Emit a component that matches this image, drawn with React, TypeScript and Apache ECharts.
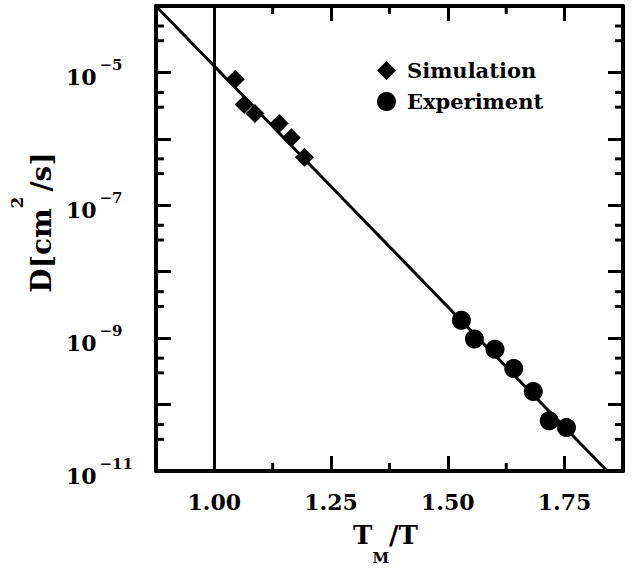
import React, { useEffect, useRef } from "react";
import * as echarts from "echarts";

// Reduced inverse temperature T_M/T and diffusion coefficient D [cm^2/s]
const simT = [1.045, 1.064, 1.087, 1.139, 1.165, 1.193];
const simD = [7.9e-6, 3.3e-6, 2.4e-6, 1.7e-6, 1.04e-6, 5.3e-7];

const expT = [1.529, 1.557, 1.601, 1.641, 1.683, 1.717, 1.754];
const expD = [1.86e-9, 9.7e-10, 6.8e-10, 3.5e-10, 1.57e-10, 5.7e-11, 4.5e-11];

// Arrhenius fit through both data sets
const fitT = [0.875, 1.841];
const fitD = [1e-4, 1e-11];

// Melting point marker
const meltT = 1.0;

// Axis ranges, ticks and labels
const xRange = [0.875, 1.875];
const yRange = [1e-11, 1e-4];
const xMajor = [1.0, 1.25, 1.5, 1.75];
const xMinor = [1.125, 1.375, 1.625];
const yMajor = [1e-11, 1e-10, 1e-9, 1e-8, 1e-7, 1e-6, 1e-5, 1e-4];
const yLabels = [1e-11, 1e-9, 1e-7, 1e-5];
const yMinor = [
  3e-11, 5e-11, 3e-10, 5e-10, 3e-9, 5e-9, 3e-8, 5e-8,
  3e-7, 5e-7, 3e-6, 5e-6, 3e-5, 5e-5,
];

const FONT = "'DejaVu Serif', serif";
const INK = "#000";
const MINOR_LEN = 8;

export default function App() {
  const ref = useRef<HTMLDivElement>(null);

  useEffect(() => {
    const chart = echarts.init(ref.current!, null, { renderer: "svg" });

    const frame = { show: true, lineStyle: { color: INK, width: 4 } };
    const major = (vals: number[]) => ({
      show: true,
      inside: true,
      length: 15,
      customValues: vals,
      lineStyle: { color: INK, width: 3 },
    });
    const xBase = {
      type: "value",
      min: xRange[0],
      max: xRange[1],
      splitLine: { show: false },
    };
    const yBase = {
      type: "log",
      logBase: 10,
      min: yRange[0],
      max: yRange[1],
      splitLine: { show: false },
    };
    const hidden = { show: false };
    const bold = { fontFamily: FONT, fontWeight: "bold", color: INK };

    chart.setOption({
      animation: false,
      backgroundColor: "#fff",
      grid: { left: 152, right: 11, top: 6, bottom: 93 },
      legend: {
        orient: "vertical",
        left: 372,
        top: 55,
        itemWidth: 19,
        itemHeight: 19,
        itemGap: 10,
        textStyle: { ...bold, fontSize: 21, padding: [0, 0, 0, 6] },
        data: [
          { name: "Simulation", icon: "diamond" },
          { name: "Experiment", icon: "circle" },
        ],
      },
      xAxis: [
        {
          ...xBase,
          position: "bottom",
          axisLine: frame,
          axisTick: major(xMajor),
          axisLabel: {
            ...bold,
            customValues: xMajor,
            margin: 20,
            fontSize: 22,
            formatter: (v: number) => v.toFixed(2),
          },
          name: "{a|T}{sub|M}{a|/T}",
          nameLocation: "middle",
          nameGap: 51,
          nameTextStyle: {
            ...bold,
            padding: [0, 8, 0, 0],
            rich: {
              a: { ...bold, fontSize: 26, lineHeight: 26, verticalAlign: "top" },
              sub: {
                ...bold,
                fontSize: 15,
                lineHeight: 15,
                padding: [28, 0, 0, 0],
                verticalAlign: "top",
              },
            },
          },
        },
        { ...xBase, position: "top", axisLine: frame, axisTick: major(xMajor), axisLabel: hidden },
      ],
      yAxis: [
        {
          ...yBase,
          position: "left",
          axisLine: frame,
          axisTick: major(yMajor),
          axisLabel: {
            customValues: yLabels,
            align: "left",
            margin: 90,
            padding: [0, 0, 8, 0],
            formatter: (v: number) => {
              const e = Math.round(Math.log10(v));
              return "{b|10}{s|\u2212" + Math.abs(e) + "}";
            },
            rich: {
              b: { ...bold, fontSize: 22, lineHeight: 22, padding: [9, 0, 8, 0], verticalAlign: "top" },
              s: { ...bold, fontSize: 15, lineHeight: 15, padding: [0, 0, 0, 3], verticalAlign: "top" },
            },
          },
          name: "{a|D[cm}{s|2}{a|/s]}",
          nameLocation: "middle",
          nameRotate: 90,
          nameGap: 94,
          nameTextStyle: {
            ...bold,
            padding: [0, 0, 0, 32],
            rich: {
              a: { ...bold, fontSize: 28, lineHeight: 28, padding: [19, 0, 0, 0], verticalAlign: "top" },
              s: { ...bold, fontSize: 17, lineHeight: 17, padding: [0, 5, 0, 0], verticalAlign: "top" },
            },
          },
        },
        { ...yBase, position: "right", axisLine: frame, axisTick: major(yMajor), axisLabel: hidden },
      ],
      series: [
        {
          name: "fit",
          type: "line",
          data: fitT.map((t, i) => [t, fitD[i]]),
          symbol: "none",
          lineStyle: { color: INK, width: 3 },
          z: 1,
          markLine: {
            silent: true,
            symbol: ["none", "none"],
            label: { show: false },
            lineStyle: { color: INK, width: 3, type: "solid" },
            data: [{ xAxis: meltT }],
          },
        },
        {
          name: "Simulation",
          type: "scatter",
          symbol: "diamond",
          symbolSize: 19,
          itemStyle: { color: INK, opacity: 1 },
          data: simT.map((t, i) => [t, simD[i]]),
          z: 3,
        },
        {
          name: "Experiment",
          type: "scatter",
          symbol: "circle",
          symbolSize: 19,
          itemStyle: { color: INK, opacity: 1 },
          data: expT.map((t, i) => [t, expD[i]]),
          z: 3,
        },
      ],
    });

    // Short inward minor ticks on all four edges, positioned via the axis scales
    const px = (v: number) => Number(chart.convertToPixel({ xAxisIndex: 0 }, v));
    const py = (v: number) => Number(chart.convertToPixel({ yAxisIndex: 0 }, v));
    const left = px(xRange[0]);
    const right = px(xRange[1]);
    const top = py(yRange[1]);
    const bottom = py(yRange[0]);
    const tick = (x1: number, y1: number, x2: number, y2: number) => ({
      type: "line",
      shape: { x1, y1, x2, y2 },
      style: { stroke: INK, lineWidth: 3 },
    });
    const minorTicks: any[] = [];
    xMinor.forEach((v) => {
      const x = px(v);
      minorTicks.push(tick(x, bottom, x, bottom - MINOR_LEN));
      minorTicks.push(tick(x, top, x, top + MINOR_LEN));
    });
    yMinor.forEach((v) => {
      const y = py(v);
      minorTicks.push(tick(left, y, left + MINOR_LEN, y));
      minorTicks.push(tick(right, y, right - MINOR_LEN, y));
    });
    chart.setOption({ graphic: { elements: minorTicks } });

    return () => chart.dispose();
  }, []);

  return (
    <div
      ref={ref}
      style={{ position: "fixed", left: 0, top: 0, width: 634, height: 570, background: "#fff" }}
    />
  );
}
